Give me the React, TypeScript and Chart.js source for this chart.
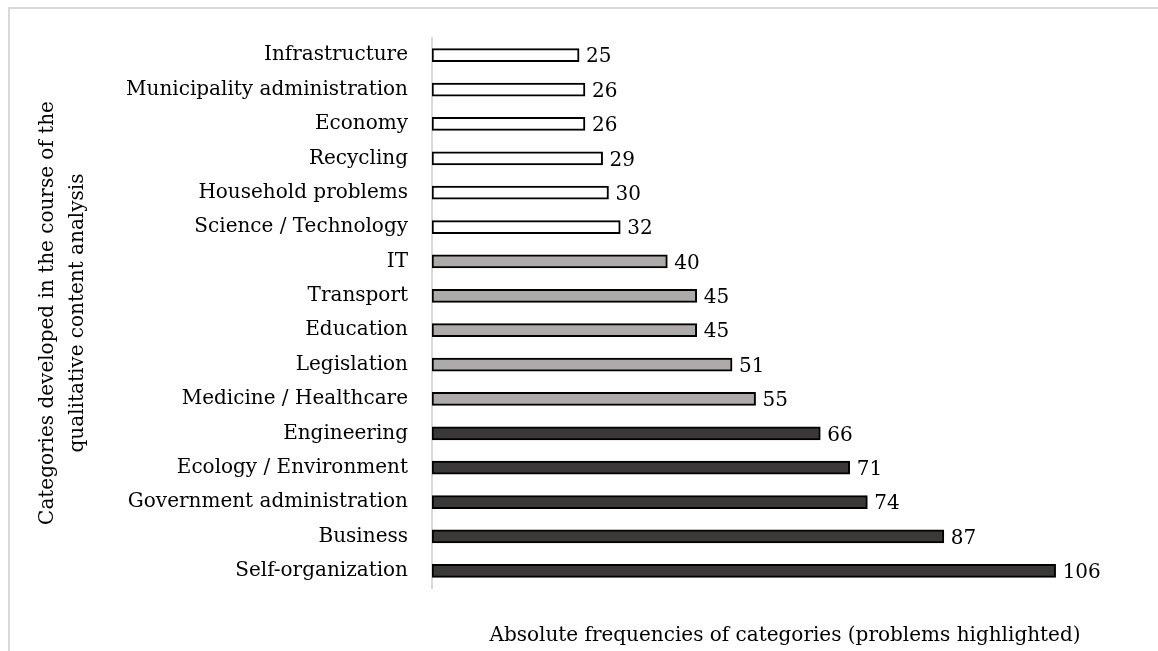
import React, { useEffect, useRef } from "react";
import { Chart, registerables } from "chart.js";

Chart.register(...registerables);

const categories = [
  "Infrastructure",
  "Municipality administration",
  "Economy",
  "Recycling",
  "Household problems",
  "Science / Technology",
  "IT",
  "Transport",
  "Education",
  "Legislation",
  "Medicine / Healthcare",
  "Engineering",
  "Ecology / Environment",
  "Government administration",
  "Business",
  "Self-organization",
];
const values = [25, 26, 26, 29, 30, 32, 40, 45, 45, 51, 55, 66, 71, 74, 87, 106];
const tiers = [0, 0, 0, 0, 0, 0, 1, 1, 1, 1, 1, 2, 2, 2, 2, 2];
const tierColors = ["#ffffff", "#aeaaaa", "#3b3838"];
const xTitle = "Absolute frequencies of categories (problems highlighted)";
const yTitle = ["Categories developed in the course of the", "qualitative content analysis"];

const FONT = "'DejaVu Serif', serif";
const SIZE = 20;

const valueLabels = {
  id: "valueLabels",
  afterDatasetsDraw(chart: any) {
    const ctx = chart.ctx;
    const meta = chart.getDatasetMeta(0);
    ctx.save();
    ctx.font = `${SIZE}px ${FONT}`;
    ctx.fillStyle = "#000";
    ctx.textAlign = "left";
    ctx.textBaseline = "middle";
    meta.data.forEach((el: any, i: number) => {
      ctx.fillText(String(values[i]), el.x + 7, el.y + 2);
    });
    ctx.restore();
  },
};

export default function App() {
  const ref = useRef<HTMLCanvasElement | null>(null);
  useEffect(() => {
    if (!ref.current) return;
    const chart = new Chart(ref.current, {
      type: "bar",
      data: {
        labels: categories,
        datasets: [
          {
            data: values,
            backgroundColor: tiers.map((t) => tierColors[t]),
            borderColor: "#000",
            borderWidth: 2,
            borderSkipped: false,
            barThickness: 13,
          },
        ],
      },
      options: {
        indexAxis: "y",
        responsive: false,
        animation: false,
        devicePixelRatio: 1,
        layout: { padding: { left: 33, top: 38, right: 20, bottom: 0 } },
        plugins: { legend: { display: false }, tooltip: { enabled: false } },
        scales: {
          x: {
            min: 0,
            max: 120,
            ticks: { display: false },
            grid: { display: false },
            border: { display: false },
            title: {
              display: true,
              text: xTitle,
              color: "#000",
              font: { family: FONT, size: SIZE, lineHeight: "24px" },
              padding: { top: 0, bottom: 3 },
            },
            afterFit(scale: any) {
              scale.height = 63;
            },
          },
          y: {
            ticks: {
              color: "#000",
              font: { family: FONT, size: SIZE },
              padding: 24,
            },
            grid: { display: false, drawTicks: false },
            border: { display: true, color: "#d9d9d9", width: 2 },
            title: {
              display: true,
              text: yTitle,
              color: "#000",
              font: { family: FONT, size: SIZE, lineHeight: "30px" },
              padding: 0,
            },
            afterFit(scale: any) {
              scale.width = 399;
            },
          },
        },
      },
      plugins: [valueLabels],
    } as any);
    return () => chart.destroy();
  }, []);
  return (
    <div style={{ position: "fixed", inset: 0, overflow: "hidden" }}>
      <div
        style={{
          position: "absolute",
          left: 8,
          top: 7,
          width: 1300,
          height: 800,
          borderTop: "2px solid #d9d9d9",
          borderLeft: "2px solid #d9d9d9",
          boxSizing: "border-box",
        }}
      />
      <canvas
        ref={ref}
        width={1158}
        height={651}
        style={{ position: "absolute", left: 0, top: 0, width: 1158, height: 651 }}
      />
    </div>
  );
}
